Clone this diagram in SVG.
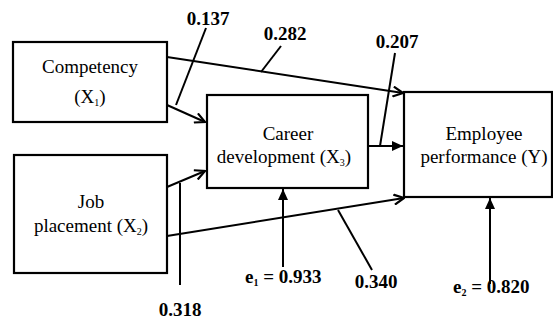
<svg xmlns="http://www.w3.org/2000/svg" width="553" height="321" viewBox="0 0 553 321">
<style>
.box{fill:#fff;stroke:#000;stroke-width:2.2}
text{font-family:'Liberation Serif','Times New Roman','DejaVu Serif',serif;font-size:19px;fill:#000}
.t{text-anchor:middle}
.n{font-weight:bold}
.sub{font-size:10px}
.ln{stroke:#000;stroke-width:2;fill:none}
.lead{stroke:#000;stroke-width:2;fill:none}
</style>
<defs>
<marker id="open" viewBox="0 0 12 12" refX="11" refY="6" markerWidth="12" markerHeight="12" markerUnits="userSpaceOnUse" orient="auto">
<path d="M1,1 L11,6 L1,11" fill="none" stroke="#000" stroke-width="2.2"/>
</marker>
<marker id="fill" viewBox="0 0 11 10" refX="11" refY="5" markerWidth="11" markerHeight="10" markerUnits="userSpaceOnUse" orient="auto">
<path d="M0,0 L11,5 L0,10 z" fill="#000"/>
</marker>
</defs>
<rect width="553" height="321" fill="#fff"/>
<g id="connectors">
<line class="ln" x1="167" y1="105" x2="205" y2="122" marker-end="url(#open)"/>
<line class="ln" x1="167" y1="57" x2="403" y2="93" marker-end="url(#open)"/>
<line class="ln" x1="167" y1="187" x2="205" y2="171" marker-end="url(#open)"/>
<line class="ln" x1="167" y1="236" x2="404" y2="198" marker-end="url(#open)"/>
<line class="ln" x1="368" y1="146" x2="403" y2="146" marker-end="url(#fill)"/>
<line class="ln" x1="283" y1="267" x2="283" y2="189" marker-end="url(#fill)"/>
<line class="ln" x1="490" y1="284" x2="490" y2="198" marker-end="url(#fill)"/>
<line class="lead" x1="206" y1="28" x2="176" y2="105"/>
<line class="lead" x1="281" y1="46" x2="261" y2="72"/>
<line class="lead" x1="395" y1="53" x2="380" y2="146"/>
<line class="lead" x1="180" y1="183" x2="180" y2="285"/>
<line class="lead" x1="338" y1="210" x2="372" y2="270"/>
</g>
<g id="competency">
<rect class="box" x="13" y="42" width="154" height="80"/>
<text class="t" x="90" y="73" font-family="Liberation Serif, serif">Competency</text>
<text class="t" x="90" y="103" font-family="Liberation Serif, serif">(X<tspan class="sub" dy="3">1</tspan><tspan dy="-3">)</tspan></text>
</g>
<g id="job_placement">
<rect class="box" x="14" y="155" width="153" height="118"/>
<text class="t" x="91" y="208" font-family="Liberation Serif, serif">Job</text>
<text class="t" x="91" y="232" font-family="Liberation Serif, serif">placement (X<tspan class="sub" dy="3">2</tspan><tspan dy="-3">)</tspan></text>
</g>
<g id="career_development">
<rect class="box" x="207" y="95" width="161" height="93"/>
<text class="t" x="288" y="140" font-family="Liberation Serif, serif">Career</text>
<text class="t" x="284" y="163" font-family="Liberation Serif, serif">development (X<tspan class="sub" dy="3">3</tspan><tspan dy="-3">)</tspan></text>
</g>
<g id="employee_performance">
<rect class="box" x="404" y="92" width="148" height="105"/>
<text class="t" x="484" y="140" font-family="Liberation Serif, serif">Employee</text>
<text class="t" x="484" y="163" font-family="Liberation Serif, serif">performance (Y)</text>
</g>
<g id="labels">
<text class="n t" x="208" y="25">0.137</text>
<text class="n t" x="285" y="40">0.282</text>
<text class="n t" x="397" y="48">0.207</text>
<text class="n t" x="180" y="316">0.318</text>
<text class="n t" x="376" y="288">0.340</text>
<text class="n" x="245" y="283">e<tspan class="sub" dy="3">1</tspan><tspan dy="-3"> = 0.933</tspan></text>
<text class="n" x="453" y="293">e<tspan class="sub" dy="3">2</tspan><tspan dy="-3"> = 0.820</tspan></text>
</g>
</svg>
